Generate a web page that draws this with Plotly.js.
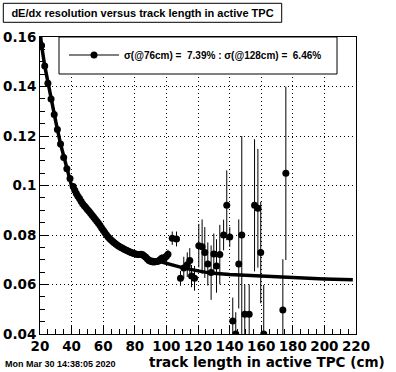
<!DOCTYPE html>
<html><head><meta charset="utf-8">
<script src="https://cdn.plot.ly/plotly-3.0.1.min.js"></script>
<style>html,body{margin:0;padding:0;background:#fff}#chart{width:396px;height:372px}</style>
</head><body><div id="chart"></div>
<script>
// measured points: track length (cm), dE/dx resolution, error
const trackLength = [21,23,25,27,29,31,33,35,37,39,
  41,42,43,44,45,46,47,48,49,50,51,52,53,54,55,56,57,58,59,60,61,62,63,64,65,66,67,68,69,70,
  71,72,73,74,75,76,77,78,79,80,81,82,83,84,85,86,87,88,89,90,91,92,93,94,95,96,97,98,99,100,101,
  103.7,106.4,108.9,111.0,113.2,114.8,115.9,117.8,120.5,122.6,124.3,126.2,128.3,130.0,131.7,133.8,136.2,138.2,140.1,142.0,143.9,145.8,147.7,149.6,152.4,155.8,157.9,159.7,161.6,173.7,175.6];
const resolution = [0.1566,0.1483,0.1413,0.1349,0.1287,0.1226,0.1168,0.1113,0.1068,0.1028,
  0.0996,0.0981,0.0968,0.0957,0.0947,0.0936,0.0926,0.0918,0.0911,0.0903,0.0896,0.0888,0.0880,0.0872,0.0864,0.0856,0.0847,0.0838,0.0828,0.0819,0.0810,0.0801,0.0793,0.0786,0.0780,0.0774,0.0769,0.0764,0.0759,0.0755,
  0.0751,0.0747,0.0743,0.0740,0.0737,0.0734,0.0731,0.0728,0.0726,0.0724,0.0722,0.0721,0.0721,0.0722,0.0720,0.0715,0.0710,0.0703,0.0697,0.0694,0.0692,0.0691,0.0692,0.0693,0.0695,0.0700,0.0706,0.0707,0.0708,0.0714,0.0722,
  0.0787,0.0784,0.0625,0.0667,0.0680,0.0697,0.0634,0.0625,0.0757,0.0753,0.0729,0.0683,0.0648,0.0723,0.0675,0.0721,0.0800,0.0920,0.0792,0.0453,0.0400,0.0683,0.0800,0.0480,0.0480,0.0920,0.0908,0.0729,0.0400,0.0497,0.1049];
const resolutionErr = [0.0008,0.0008,0.0008,0.0008,0.0008,0.0008,0.0008,0.0008,0.0008,0.0008,
  0.0008,0.0008,0.0008,0.0008,0.0008,0.0008,0.0008,0.0008,0.0008,0.0008,0.0008,0.0008,0.0008,0.0008,0.0008,0.0008,0.0008,0.0008,0.0008,0.0008,0.0009,0.0009,0.0009,0.0009,0.0009,0.0009,0.0009,0.0009,0.0009,0.0009,
  0.0009,0.0009,0.0010,0.0010,0.0010,0.0010,0.0010,0.0010,0.0010,0.0010,0.0010,0.0010,0.0011,0.0011,0.0011,0.0011,0.0011,0.0011,0.0012,0.0012,0.0012,0.0012,0.0012,0.0013,0.0013,0.0014,0.0015,0.0015,0.0015,0.0016,0.0018,
  0.0027,0.0030,0.0030,0.0045,0.0050,0.0050,0.0045,0.0050,0.0088,0.0110,0.0103,0.0087,0.0110,0.0083,0.0108,0.0120,0.0062,0.0141,0.0040,0.0094,0.0088,0.0180,0.0400,0.0120,0.0120,0.0267,0.0240,0.0205,0.0198,0.0205,0.0350];
// fitted curve
const fitLength = [20,21,23,25,27,30,33,36,40,45,50,55,60,65,70,76,80,85,90,100,110,120,128,140,160,180,200,218];
const fitResolution = [0.1625,0.1566,0.1483,0.1413,0.1349,0.1257,0.1168,0.1090,0.0998,0.0941,0.0900,0.0862,0.0820,0.0785,0.0760,0.0739,0.0727,0.0715,0.0703,0.0685,0.0668,0.0655,0.0646,0.0640,0.0633,0.0627,0.0622,0.0619];
// ticks
const xTickVals = [20,40,60,80,100,120,140,160,180,200,220];
const xTickText = ['20','40','60','80','100','120','140','160','180','200','220'];
const yTickVals = [0.04,0.06,0.08,0.10,0.12,0.14,0.16];
const yTickText = ['0.04','0.06','0.08','0.1','0.12','0.14','0.16'];
const legendLabel = 'σ(@76cm) = \u00a07.39% : σ(@128cm) = \u00a06.46%';
const chartTitle = 'dE/dx resolution versus track length in active TPC';
const xTitle = 'track length in active TPC (cm)';
const dateStamp = 'Mon Mar 30 14:38:05 2020';

const tickFont = {family:'DejaVu Sans', size:13.5, weight:'bold', color:'black'};

const traces = [
  {x: fitLength, y: fitResolution, mode:'lines', line:{color:'black', width:3.5}, showlegend:false, hoverinfo:'skip'},
  {x: trackLength, y: resolution, mode:'markers', marker:{color:'black', size:7, symbol:'circle'},
   error_y:{type:'data', array: resolutionErr, visible:true, color:'black', thickness:1, width:0}, showlegend:false},
  {x:[null], y:[null], mode:'lines+markers', name: legendLabel, line:{color:'black', width:1}, marker:{color:'black', size:7}, showlegend:true}
];

const layout = {
  width:396, height:372,
  margin:{l:40, r:40, t:37, b:38, autoexpand:false},
  paper_bgcolor:'white', plot_bgcolor:'white',
  title:{text: chartTitle, xref:'container', yref:'container', x:142.5/396, xanchor:'center', y:1-13/372, yanchor:'middle',
         font:{family:'Liberation Sans', size:11, weight:'bold', color:'black'}},
  xaxis:{range:[20,220], tickmode:'array', tickvals:xTickVals, ticktext:xTickText, ticks:'inside', ticklen:9, tickwidth:1, tickcolor:'black',
         showgrid:true, gridcolor:'black', gridwidth:1, griddash:'1px,3px', showline:true, linecolor:'black', linewidth:1, mirror:true, zeroline:false,
         minor:{tickmode:'linear', tick0:20, dtick:5, ticks:'inside', ticklen:5, tickwidth:1, tickcolor:'black', showgrid:false},
         tickfont: tickFont, fixedrange:true},
  yaxis:{range:[0.04,0.16], tickmode:'array', tickvals:yTickVals, ticktext:yTickText, ticks:'inside', ticklen:9, tickwidth:1, tickcolor:'black',
         showgrid:true, gridcolor:'black', gridwidth:1, griddash:'1px,3px', showline:true, linecolor:'black', linewidth:1, mirror:true, zeroline:false,
         minor:{tickmode:'linear', tick0:0.04, dtick:0.005, ticks:'inside', ticklen:5, tickwidth:1, tickcolor:'black', showgrid:false},
         tickfont: tickFont, fixedrange:true},
  legend:{x:(64-40)/316, xanchor:'left', y:(334-55)/297, yanchor:'middle', bgcolor:'rgba(0,0,0,0)', borderwidth:0, itemwidth:50,
          font:{family:'Liberation Sans', size:10, weight:'bold', color:'black'}},
  shapes:[
    {type:'rect', xref:'paper', yref:'paper', x0:(3.3-40)/316, x1:(281.7-40)/316, y0:(334-22.3)/297, y1:(334-3.3)/297,
     line:{color:'black', width:1}, fillcolor:'white', layer:'above'},
    {type:'rect', xref:'paper', yref:'paper', x0:(59-40)/316, x1:(337-40)/316, y0:(334-74)/297, y1:1,
     line:{color:'black', width:1}, fillcolor:'white', layer:'above'}
  ],
  annotations:[
    {text: xTitle, xref:'paper', yref:'paper', x:(387-40)/316, xanchor:'right', y:(334-362)/297, yanchor:'middle', showarrow:false,
     font:{family:'DejaVu Sans', size:13.5, weight:'bold', color:'black'}},
    {text: dateStamp, xref:'paper', yref:'paper', x:(3.3-40)/316, xanchor:'left', y:(334-364)/297, yanchor:'middle', showarrow:false,
     font:{family:'Liberation Sans', size:9, weight:'bold', color:'black'}}
  ]
};
Plotly.newPlot('chart', traces, layout, {staticPlot:true, displayModeBar:false});
</script>
</body></html>
